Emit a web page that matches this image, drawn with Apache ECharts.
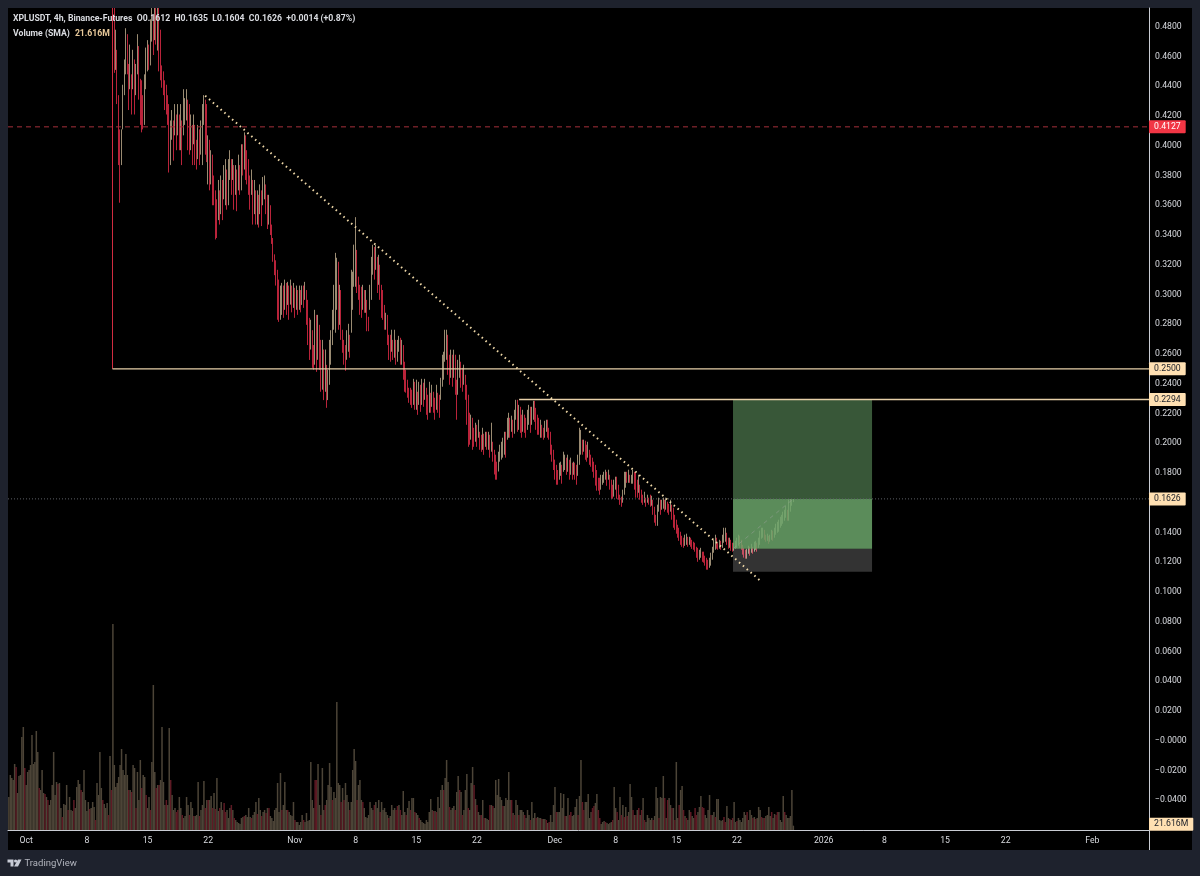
<!DOCTYPE html>
<html><head><meta charset="utf-8">
<style>html,body{margin:0;padding:0;background:#1e222d}#c{width:1200px;height:876px}</style>
<script src="https://cdn.jsdelivr.net/npm/echarts@6/dist/echarts.min.js"></script>
</head><body><div id="c"></div>
<script>
// 4h bars: days counted from 1 Oct; volume begins on slot 0, visible candles on slot 72.
const firstVolumeDay = -2, barsPerDay = 6, firstCandleSlot = 72;
const closes = [
.471,.451,.461,.431,.400,.390,.411,.438,.451,.468,
.455,.438,.448,.431,.455,.435,.445,.458,.441,.428,
.418,.411,.428,.451,.461,.455,.471,.478,.468,.481,
.475,.485,.458,.450,.444,.439,.434,.428,.421,.3905,
.404,.414,.407,.417,.411,.421,.404,.414,.397,.417,
.424,.431,.414,.404,.411,.397,.414,.394,.387,.401,
.397,.414,.424,.428,.401,.391,.397,.380,.387,.370,
.367,.354,.347,.360,.354,.370,.364,.377,.384,.367,
.380,.387,.377,.384,.374,.380,.370,.384,.374,.397,
.3905,.404,.397,.387,.380,.370,.377,.360,.367,.354,
.360,.350,.367,.357,.370,.374,.364,.354,.360,.347,
.340,.330,.322,.313,.306,.2897,.2964,.303,.293,.2998,
.2897,.2998,.295,.303,.2964,.301,.293,.2998,.291,.298,
.295,.303,.298,.3045,.2897,.2796,.266,.273,.2595,.256,
.276,.266,.2796,.263,.2494,.2595,.246,.2507,.236,.2393,
.256,.266,.2796,.293,.303,.3166,.293,.2998,.283,.2695,
.263,.2575,.266,.273,.2595,.2964,.310,.323,.337,.3166,
.3065,.2964,.2897,.3,.293,.2964,.283,.2796,.303,.3166,
.3267,.320,.330,.3133,.32,.3065,.2964,.2897,.283,.2843,
.2729,.266,.263,.2695,.2615,.266,.2595,.263,.2695,.2595,
.263,.2548,.246,.2393,.2346,.2326,.2306,.2292,.2393,.2292,
.2346,.2258,.2326,.2292,.236,.2292,.2373,.2258,.2225,.2306,
.2258,.2326,.2238,.2211,.2306,.2258,.2225,.2346,.246,.2528,
.266,.2695,.2595,.2494,.2528,.246,.2561,.246,.2292,.246,
.2528,.246,.2427,.248,.2393,.2326,.2158,.209,.2124,.2057,
.2024,.2077,.2037,.209,.201,.197,.2024,.199,.2037,.199,
.2024,.1956,.201,.1923,.1876,.182,.1768,.1855,.1923,.1956,
.197,.2024,.199,.2104,.2124,.209,.2144,.2077,.2158,.2238,
.2124,.2211,.2158,.209,.2171,.2124,.2104,.2158,.2211,.2144,
.2192,.2258,.2225,.2158,.2124,.209,.2104,.2077,.2064,.209,
.2124,.2104,.2077,.199,.1923,.1876,.182,.1768,.1755,.1808,
.1848,.1788,.1876,.1903,.182,.1855,.182,.1848,.1808,.1835,
.182,.1788,.1855,.1956,.2024,.197,.199,.1943,.1923,.1956,
.1903,.1876,.1855,.182,.1788,.1755,.1728,.1721,.1741,.1755,
.1768,.1788,.1755,.1781,.1734,.1688,.1654,.1688,.1755,.1701,
.1654,.162,.16,.1654,.1755,.1768,.1755,.1781,.1755,.1768,
.1781,.1755,.1721,.1674,.1721,.1654,.1634,.162,.1634,.1607,
.1634,.162,.1607,.162,.1567,.1519,.1472,.1499,.1587,.1567,
.1587,.1607,.1567,.1593,.1567,.1553,.1587,.154,.1499,.1459,
.1432,.1405,.1378,.1351,.1338,.1324,.1338,.1351,.1331,.1344,
.1331,.1317,.1304,.1297,.1271,.1244,.1251,.1264,.1244,.123,
.1217,.1177,.1163,.1183,.1217,.1251,.1297,.1351,.1317,.1311,
.1317,.1311,.1331,.1385,.1405,.1351,.1324,.1331,.1311,.1297,
.1304,.1317,.1338,.1351,.1331,.1311,.1291,.1271,.1251,.1264,
.1284,.1271,.1291,.1277,.1297,.1311,.1297,.1324,.1351,.1385,
.1405,.1378,.1365,.1371,.1351,.1365,.1385,.1371,.1398,.1418,
.1432,.1445,.1472,.1486,.1499,.1519,.154,.1513,.1553,.1587,.1612,.1626];
const highs = [
.4926,.4926,.478,.4645,.434,.411,.411,.441,.458,.479,
.475,.455,.468,.448,.4645,.458,.455,.475,.467,.445,
.444,.434,.448,.466,.471,.468,.485,.4926,.488,.4926,
.4926,.4926,.4926,.478,.454,.450,.444,.441,.434,.428,
.417,.424,.417,.428,.421,.428,.421,.428,.417,.438,
.432,.438,.431,.428,.421,.414,.421,.414,.404,.414,
.411,.417,.428,.434,.431,.428,.407,.404,.397,.394,
.380,.370,.364,.377,.370,.380,.377,.387,.391,.384,
.391,.397,.391,.391,.387,.387,.384,.394,.387,.401,
.401,.409,.407,.397,.391,.380,.384,.377,.377,.370,
.370,.367,.374,.370,.379,.380,.374,.367,.367,.360,
.347,.338,.327,.323,.3166,.310,.306,.3078,.306,.310,
.3078,.3085,.306,.310,.306,.3078,.3045,.306,.303,.306,
.303,.306,.306,.3085,.303,.2964,.2843,.283,.276,.266,
.2897,.2863,.2863,.2796,.2695,.2695,.263,.263,.2527,.2494,
.2695,.276,.2897,.3065,.328,.3247,.322,.3065,.303,.2763,
.2695,.266,.276,.2803,.2729,.3166,.3153,.3335,.352,.330,
.312,.3065,.3052,.3065,.303,.303,.2964,.285,.3065,.3253,
.3334,.332,.3334,.3253,.3267,.32,.3065,.303,.293,.2877,
.2863,.2729,.2729,.2763,.2695,.2763,.2695,.2695,.2722,.2709,
.2695,.266,.2548,.2494,.2427,.2373,.2373,.236,.2433,.2413,
.2427,.2346,.2413,.2393,.2433,.2407,.2433,.2373,.2326,.2413,
.2339,.2393,.2346,.2306,.2393,.2339,.2326,.2440,.2595,.2615,
.2763,.2763,.2729,.2595,.2629,.2595,.2629,.2595,.2427,.2561,
.2595,.2548,.2507,.2528,.246,.2393,.2326,.2205,.2192,.2171,
.2104,.2138,.2124,.2158,.2077,.2057,.2104,.2064,.2077,.2077,
.2077,.2057,.2138,.201,.1956,.1923,.1876,.1943,.199,.201,
.2037,.2077,.2077,.2171,.2205,.2171,.2185,.2158,.2225,.2292,
.2292,.2258,.2245,.2192,.2225,.2192,.2171,.2225,.2258,.2245,
.2245,.2285,.2285,.2238,.2192,.2171,.2158,.2124,.2104,.2151,
.2158,.2158,.2104,.2077,.199,.1956,.189,.1855,.182,.1869,
.1876,.1855,.1943,.1923,.1903,.1923,.1889,.1903,.1869,.1876,
.1869,.1855,.1923,.2104,.2090,.2024,.2024,.2017,.199,.201,
.1956,.1923,.1903,.1876,.1855,.182,.1768,.1768,.1788,.1788,
.1808,.1822,.1808,.1822,.1788,.1755,.1721,.1755,.1775,.1775,
.1721,.1654,.1641,.1688,.1808,.1808,.1808,.1822,.1788,.1788,
.1822,.1808,.1801,.1755,.1788,.1721,.1688,.1654,.1674,.1634,
.1654,.1634,.1654,.1647,.162,.1573,.1519,.1587,.1634,.162,
.162,.1634,.162,.1634,.1607,.1593,.162,.1587,.1567,.1519,
.1486,.1452,.1432,.1405,.1378,.1365,.1385,.1392,.1371,.1371,
.1365,.1351,.1338,.1331,.1304,.1297,.1284,.1297,.1271,.1271,
.1244,.123,.1217,.123,.1264,.1304,.1351,.1385,.1365,.1331,
.1351,.1344,.1385,.1432,.1432,.1398,.1365,.1365,.1351,.1331,
.1331,.1344,.1365,.1385,.1378,.1351,.1317,.1297,.1284,.1291,
.1311,.1304,.1324,.1304,.1338,.1344,.1331,.1365,.1412,.1432,
.1432,.1418,.1385,.1392,.1378,.1385,.1418,.1412,.1432,.1459,
.1472,.1486,.1506,.1519,.154,.1553,.158,.1553,.1634,.1647,.1647,.1635];
const lows = [
.449,.449,.451,.428,.387,.3617,.387,.411,.434,.448,
.448,.424,.438,.421,.438,.421,.434,.448,.431,.414,
.409,.411,.414,.438,.450,.451,.454,.470,.461,.471,
.468,.464,.450,.444,.439,.434,.424,.421,.414,.382,
.387,.404,.390,.407,.397,.407,.397,.397,.387,.407,
.414,.417,.397,.394,.397,.387,.401,.387,.384,.391,
.387,.394,.387,.414,.394,.389,.374,.370,.374,.360,
.360,.337,.338,.350,.347,.354,.350,.364,.360,.357,
.360,.377,.367,.377,.357,.367,.356,.370,.367,.370,
.380,.384,.377,.374,.367,.357,.367,.347,.354,.347,
.347,.345,.354,.346,.360,.364,.354,.344,.347,.340,
.334,.322,.313,.306,.283,.2816,.283,.2863,.2843,.2897,
.2863,.293,.283,.2932,.288,.291,.2843,.2897,.2863,.2897,
.288,.293,.291,.2964,.2796,.266,.256,.263,.2507,.2494,
.2528,.2480,.2561,.2494,.2346,.236,.229,.2346,.2238,.229,
.2393,.2528,.266,.2763,.2743,.2897,.2763,.2796,.2695,.2608,
.2528,.2487,.2561,.2615,.2575,.2743,.2897,.3052,.3052,.301,
.2964,.2863,.2843,.2897,.2877,.2877,.2753,.2753,.2897,.2964,
.3133,.310,.3166,.301,.3065,.2964,.2843,.283,.2763,.2763,
.266,.256,.2548,.2615,.256,.2575,.2528,.2548,.2615,.2528,
.2528,.2427,.2346,.234,.2306,.2272,.2258,.2238,.2258,.2225,
.2225,.2191,.2258,.2211,.2258,.2245,.2292,.2191,.2158,.2205,
.2205,.2245,.2205,.2158,.2225,.2205,.2171,.2292,.2380,.2427,
.2548,.2561,.246,.2393,.244,.2380,.244,.2326,.2158,.2326,
.244,.2373,.2346,.2393,.2292,.2124,.1976,.199,.2024,.1956,
.1976,.201,.1976,.2037,.1956,.1942,.1956,.1922,.1976,.1956,
.1956,.1903,.1943,.1876,.179,.1755,.1755,.181,.1876,.189,
.1903,.1923,.1903,.2024,.2037,.2037,.2077,.2037,.2064,.2158,
.2077,.209,.2070,.2037,.2077,.2070,.2037,.2090,.2124,.2070,
.2124,.2158,.2144,.209,.2057,.2057,.2037,.2037,.2024,.2037,
.2077,.2037,.2024,.1923,.1876,.182,.1755,.1721,.1721,.1755,
.1781,.1728,.1808,.182,.1788,.1808,.1755,.1788,.1755,.1788,
.1755,.1721,.1781,.1855,.1923,.1923,.1943,.1889,.1876,.1903,
.1855,.1842,.1808,.1768,.1715,.1681,.1681,.1654,.1688,.1721,
.1734,.1755,.1714,.1755,.1688,.1627,.1627,.1641,.1688,.1627,
.162,.1586,.1573,.16,.1654,.1701,.1734,.1734,.1734,.1728,
.1728,.1688,.1634,.1634,.1667,.162,.16,.1586,.16,.1573,
.16,.1587,.1573,.1580,.1519,.1466,.1445,.1445,.154,.1519,
.1553,.156,.154,.1553,.1533,.1519,.154,.1486,.1432,.1418,
.1392,.1365,.1344,.1317,.1304,.1297,.131,.1317,.1304,.1317,
.1304,.129,.1284,.1271,.123,.1203,.1217,.123,.1203,.1197,
.1177,.1150,.115,.1163,.1177,.1217,.1264,.1284,.1291,.1284,
.1291,.1284,.1297,.1331,.1338,.1317,.1291,.1297,.1277,.1271,
.1277,.1291,.1297,.1311,.1297,.1284,.1251,.1231,.1224,.1224,
.1257,.1244,.1264,.1257,.1271,.1284,.1271,.1297,.1317,.1358,
.1365,.1351,.1338,.1344,.1324,.1338,.1351,.1344,.1365,.1385,
.1398,.1405,.1432,.1445,.1459,.1479,.1499,.1479,.1479,.154,.158,.1604];
// volume in millions; a negative number marks a down bar
const volumes = [
165,275,260,250,330,-315,185,270,275,465,
515,-310,225,290,300,325,475,330,340,495,
390,-210,200,300,185,-180,165,-150,125,150,
225,390,175,240,-230,235,110,-65,130,125,
225,-100,165,100,95,-150,110,215,250,230,
-200,190,300,150,95,140,-105,110,140,115,
-50,235,175,390,210,-150,130,110,135,-75,
370,-200,1030,325,215,235,265,325,405,300,
275,380,275,-200,200,-190,325,310,-110,290,
150,350,-210,275,265,-175,110,165,-100,340,
725,290,-210,225,-225,250,515,240,125,-150,
125,510,-250,175,100,110,-90,-100,165,110,
-75,60,70,165,125,-75,140,110,-70,70,
75,240,-70,100,125,245,-110,150,-150,150,
170,-110,185,-105,260,95,-110,140,100,-135,
-90,100,60,110,-125,100,-60,50,40,35,
30,60,65,-70,75,65,110,65,-60,75,
90,140,-80,160,100,-70,90,100,-85,110,
-110,70,60,45,100,110,235,90,285,-100,
125,240,100,-100,90,75,70,140,-50,40,
40,25,40,75,-50,40,85,45,50,340,
150,110,-250,-250,330,125,-75,310,100,-125,
150,225,335,215,-150,190,160,640,235,225,
-140,210,-150,235,175,140,-100,140,300,405,
345,-150,225,250,150,-140,110,65,60,75,
140,110,100,-125,140,110,150,-90,140,100,
110,90,75,-60,70,125,100,110,-100,-120,
125,-100,75,195,90,-75,110,145,-100,160,
160,-90,85,75,-60,50,40,35,30,50,
40,90,155,100,-95,95,-90,165,110,200,
225,-200,260,350,240,-115,100,110,120,-100,
190,270,-200,190,-75,100,200,280,-110,100,
235,315,-225,155,-125,90,75,-75,150,-60,
60,55,50,-125,125,-120,110,250,175,255,
165,150,-120,120,160,150,290,150,-150,85,
-75,150,125,-75,100,100,90,-75,60,100,
75,-50,140,60,85,-60,65,60,60,-55,
55,55,-50,35,-40,75,40,125,215,-90,
90,90,185,110,180,-70,70,160,-75,-90,
70,75,115,155,-75,170,350,-140,-100,140,
140,180,60,90,-110,-120,135,180,-100,-60,
30,40,45,-40,35,30,35,40,-50,215,
110,-90,50,165,-75,125,-65,115,-70,90,
230,165,-100,75,-75,100,-110,75,-100,160,
-50,40,75,60,50,60,-50,70,215,160,
-60,165,160,270,-160,60,-150,160,125,-110,
110,-50,340,60,-125,200,220,-100,70,-60,
50,100,-90,70,60,-110,-75,90,115,170,
-115,-110,75,60,100,175,-75,75,90,-65,
155,155,50,45,50,-65,-40,120,60,-55,
50,-60,140,40,-45,60,50,40,60,90,
75,-90,50,100,75,-60,65,-55,60,115,
100,-65,60,-60,70,75,115,70,-90,60,
80,-75,-90,90,50,40,170,-90,75,60,
60,70,200,21.616];
const timeTickDays = [0,7,14,21,31,38,45,52,61,68,75,82,92,99,106,113,123];
const timeTickLabels = ['Oct','8','15','22','Nov','8','15','22','Dec','8','15','22','2026','8','15','22','Feb'];
const levelExtremum = 0.25, levelTarget = 0.2294, levelHigh = 0.4127, lastClose = 0.1626, levelStop = 0.1136, levelEntry = 0.1291;
const lastVolume = 21.616;
const trendStart = [20.65, 0.4336], trendEnd = [84.7, 0.1075];
const openingDay = 9.956, targetStartDay = 56.86, firstOpen = 0.45;
const boxDays = [81.54, 97.58], currentDay = 88.5;
const axisMinX = -2.1, axisMaxX = 129.53, axisMinY = -0.06, axisMaxY = 0.4926;

const FONT = 'Roboto, "Noto Sans", sans-serif', AX = '#c9ccd3', FS = 8.7;
const slotDay = k => firstVolumeDay + k / barsPerDay;
const ohlc = closes.map((c, i) => [slotDay(i + firstCandleSlot), i ? closes[i - 1] : firstOpen, c, lows[i], highs[i]]);
const volData = volumes.map((v, i) => ({
  value: [slotDay(i), Math.abs(v)],
  itemStyle: { color: v < 0 ? '#5e1a24' : '#4c4437' }
}));
const badge = (fmt, bg, fg, offset) => ({
  show: true, formatter: fmt, distance: 0, offset: offset || [0, 0],
  backgroundColor: bg, color: fg, fontFamily: FONT, fontSize: FS,
  padding: [3, 5, 1, 5], borderRadius: 1
});
const hLine = (name, a, b, y, style, lbl, extra) => Object.assign({
  name, type: 'line', silent: true, symbol: 'none', animation: false, z: 6,
  data: [[a, y], [b, y]], lineStyle: style, endLabel: lbl
}, extra || {});
const fmtY = v => {
  if (v < -0.05 || v > 0.485) return '';
  const s = Math.abs(v).toFixed(4);
  return v < 0.001 && v > -0.001 ? '\u22120.0000' : (v < 0 ? '\u2212' + s : s);
};
const chart = echarts.init(document.getElementById('c'), null, { renderer: 'canvas' });
chart.setOption({
  animation: false,
  backgroundColor: '#1e222d',
  title: [
    { left: 13, top: 14, padding: 0,
      text: '{a|XPLUSDT, 4h, Binance-Futures  O0.1612  H0.1635  L0.1604  C0.1626  +0.0014 (+0.87%)}',
      textStyle: { rich: { a: { fontFamily: FONT, fontSize: FS, color: '#d9dbe0' } } } },
    { left: 13, top: 25, padding: 0,
      text: '{a|Volume (SMA)} {b|21.616M}',
      textStyle: { rich: { a: { fontFamily: FONT, fontSize: FS, color: '#d9dbe0' }, b: { fontFamily: FONT, fontSize: FS, color: '#e8c99a' } } } }
  ],
  graphic: [
    { type: 'rect', z: -1, silent: true, shape: { x: 8, y: 8, width: 1184, height: 842 }, style: { fill: '#000' } },
    { type: 'rect', z: 8, silent: true, shape: { x: 1149, y: 830, width: 1, height: 20 }, style: { fill: AX } },
    { type: 'polygon', silent: true, shape: { points: [[7.5,859.5],[13.5,859.5],[13.5,866.5],[10.5,866.5],[10.5,862.5],[7.5,862.5]] }, style: { fill: '#c8ccd6' } },
    { type: 'circle', silent: true, shape: { cx: 15.6, cy: 861, r: 1.6 }, style: { fill: '#c8ccd6' } },
    { type: 'polygon', silent: true, shape: { points: [[18,859.5],[21.5,859.5],[18,866.5],[14,866.5]] }, style: { fill: '#c8ccd6' } },
    { type: 'text', silent: true, style: { x: 24.5, y: 858.5, text: 'TradingView', fill: '#b2b5be', font: '9.5px ' + FONT } }
  ],
  grid: { left: 8, top: 8, width: 1141, height: 822, containLabel: false },
  xAxis: {
    type: 'value', min: axisMinX, max: axisMaxX, splitLine: { show: false },
    axisLine: { show: true, onZero: false, lineStyle: { color: AX, width: 1 } },
    axisTick: { show: false },
    axisLabel: {
      customValues: timeTickDays, color: '#d9dbe0', fontFamily: FONT, fontSize: FS, margin: 6,
      formatter: v => timeTickLabels[timeTickDays.indexOf(v)] || ''
    }
  },
  yAxis: [
    { type: 'value', position: 'right', min: axisMinY, max: axisMaxY, interval: 0.02, splitLine: { show: false }, scale: true,
      axisLine: { show: true, onZero: false, lineStyle: { color: AX, width: 1 } }, axisTick: { show: false },
      axisLabel: { show: true, color: '#d9dbe0', fontFamily: FONT, fontSize: FS, margin: 6, padding: [5, 0, 0, 0], showMinLabel: false, showMaxLabel: false, formatter: fmtY } },
    { type: 'value', min: 0, max: 4110, show: false, splitLine: { show: false } }
  ],
  series: [
    { name: 'Volume', type: 'bar', yAxisIndex: 1, barWidth: 1.5, data: volData, z: 1, silent: true, large: false },
    { name: 'XPLUSDT', type: 'candlestick', barWidth: 1, z: 3, silent: true, clip: true,
      encode: { x: 0, y: [1, 2, 3, 4] }, data: ohlc,
      itemStyle: { color: '#969696', color0: '#6e3a3e', borderColor: '#9a8b72', borderColor0: '#b9233a', borderWidth: 1 } },
    { name: 'Opening leg', type: 'line', silent: true, symbol: 'none', z: 6,
      data: [[openingDay, levelExtremum], [openingDay, axisMaxY]], lineStyle: { color: '#d12c40', width: 1 } },
    hLine('Extremum', openingDay, axisMaxX, levelExtremum, { color: '#e6cfa8', width: 1.4 }, badge('0.2500', '#ffe0b2', '#20232b')),
    hLine('Target', targetStartDay, axisMaxX, levelTarget, { color: '#e6cfa8', width: 1.4 }, badge('0.2294', '#ffe0b2', '#20232b')),
    hLine('High', axisMinX, axisMaxX, levelHigh, { color: '#a5303a', width: 1, type: [5, 4] }, badge('0.4127', '#f23645', '#ffffff')),
    hLine('Last', axisMinX, axisMaxX, lastClose, { color: '#5c5f66', width: 1, type: [1, 2] }, badge('0.1626', '#ffe0b2', '#20232b')),
    hLine('Vol badge', axisMaxX - 1, axisMaxX, lastVolume, { opacity: 0, width: 0 }, badge('21.616M', '#ffe0b2', '#20232b', [0, -1.5]), { yAxisIndex: 1 }),
    { name: 'Trend', type: 'line', silent: true, symbol: 'none', z: 7, data: [trendStart, trendEnd],
      lineStyle: { color: '#f0d9a8', width: 2, type: [1.5, 3.6] } },
    { name: 'Position', type: 'line', silent: true, symbol: 'none', z: 6,
      data: [[boxDays[0], levelEntry], [currentDay, lastClose]], lineStyle: { color: 'rgba(150,160,150,.55)', width: 1, type: [4, 4] },
      markArea: { silent: true, z: 5, data: [
        [{ xAxis: boxDays[0], yAxis: levelTarget, itemStyle: { color: '#385738' } }, { xAxis: boxDays[1], yAxis: lastClose }],
        [{ xAxis: boxDays[0], yAxis: lastClose, itemStyle: { color: 'rgba(107,165,106,.85)' } }, { xAxis: boxDays[1], yAxis: levelEntry }],
        [{ xAxis: boxDays[0], yAxis: levelEntry, itemStyle: { color: 'rgba(255,255,255,.2)' } }, { xAxis: boxDays[1], yAxis: levelStop }]
      ] } }
  ]
});
</script></body></html>
